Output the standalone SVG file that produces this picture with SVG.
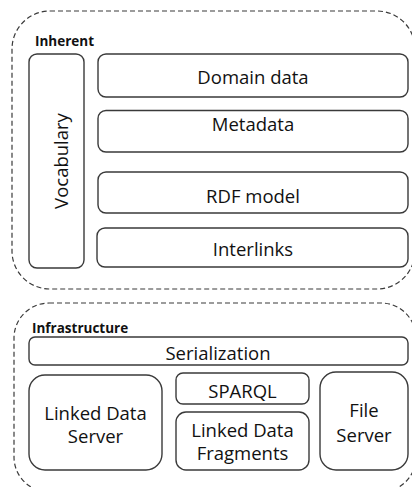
<svg xmlns="http://www.w3.org/2000/svg" width="412" height="487" viewBox="0 0 412 487">
  <style>
    .grp { fill: none; stroke: #3a3a3a; stroke-width: 1.2; stroke-dasharray: 5 3; }
    .box { fill: #ffffff; stroke: #3a3a3a; stroke-width: 1.4; }
    .lbl { font-family: "Open Sans", "Noto Sans", sans-serif; font-size: 18.5px; fill: #111111; text-anchor: middle; }
    .cap { font-family: "Open Sans", "Noto Sans", sans-serif; font-size: 13.5px; font-weight: bold; fill: #111111; }
  </style>
  <rect width="412" height="487" fill="#ffffff"/>

  <!-- Inherent layer -->
  <g id="inherent">
    <rect class="grp" x="12" y="11" width="403" height="278" rx="38" ry="38"/>
    <text class="cap" x="35" y="46">Inherent</text>
  </g>
  <g id="vocabulary">
    <rect class="box" x="29" y="54" width="55" height="214" rx="8" ry="8"/>
    <text class="lbl" transform="translate(67.5,161) rotate(-90)">Vocabulary</text>
  </g>
  <g id="domain-data">
    <rect class="box" x="98" y="54" width="310" height="43" rx="8" ry="8"/>
    <text class="lbl" x="253" y="84">Domain data</text>
  </g>
  <g id="metadata">
    <rect class="box" x="98" y="110.5" width="310" height="41.5" rx="8" ry="8"/>
    <text class="lbl" x="253" y="131">Metadata</text>
  </g>
  <g id="rdf-model">
    <rect class="box" x="98" y="172" width="310" height="41" rx="8" ry="8"/>
    <text class="lbl" x="253" y="203">RDF model</text>
  </g>
  <g id="interlinks">
    <rect class="box" x="97" y="228" width="311" height="39" rx="8" ry="8"/>
    <text class="lbl" x="253" y="256">Interlinks</text>
  </g>

  <!-- Infrastructure layer -->
  <g id="infrastructure">
    <rect class="grp" x="14" y="303" width="402" height="189" rx="35" ry="35"/>
    <text class="cap" x="32" y="333">Infrastructure</text>
  </g>
  <g id="serialization">
    <rect class="box" x="29" y="337" width="379" height="28" rx="6" ry="6"/>
    <text class="lbl" x="218" y="360">Serialization</text>
  </g>
  <g id="linked-data-server">
    <rect class="box" x="29" y="375" width="133" height="95" rx="16" ry="16"/>
    <text class="lbl" x="95.5" y="420">Linked Data</text>
    <text class="lbl" x="95.5" y="442.5">Server</text>
  </g>
  <g id="sparql">
    <rect class="box" x="176" y="373" width="133" height="31" rx="7" ry="7"/>
    <text class="lbl" x="242.5" y="398">SPARQL</text>
  </g>
  <g id="linked-data-fragments">
    <rect class="box" x="176" y="412" width="133" height="58" rx="10" ry="10"/>
    <text class="lbl" x="242.5" y="437">Linked Data</text>
    <text class="lbl" x="242.5" y="460">Fragments</text>
  </g>
  <g id="file-server">
    <rect class="box" x="320" y="372" width="88" height="98" rx="16" ry="16"/>
    <text class="lbl" x="364" y="417">File</text>
    <text class="lbl" x="364" y="442">Server</text>
  </g>

  <!-- no connectors between the layers -->
  <g id="connectors"/>
</svg>
